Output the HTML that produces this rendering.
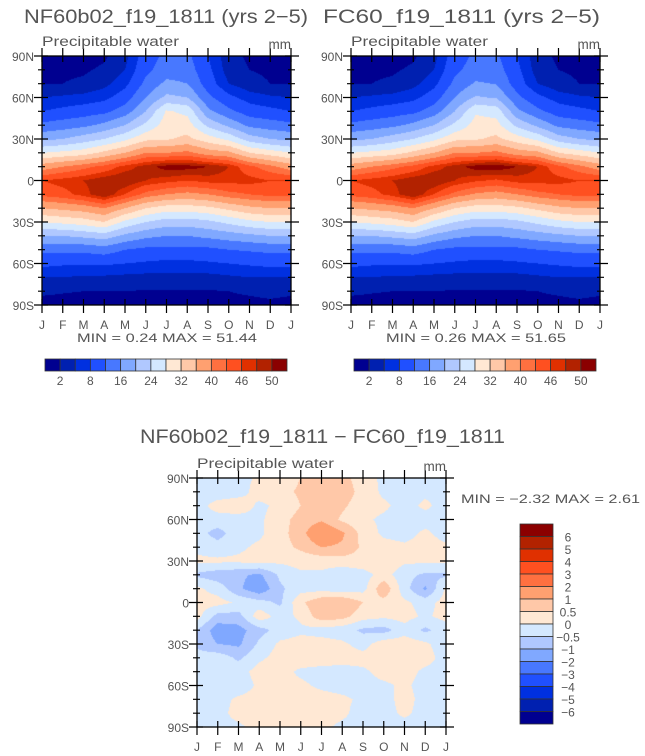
<!DOCTYPE html>
<html><head><meta charset="utf-8"><style>
html,body{margin:0;padding:0;background:#fff;}
#wrap{position:relative;width:645px;height:756px;overflow:hidden;}
canvas{position:absolute;}
svg{position:absolute;left:0;top:0;}
text{font-family:"Liberation Sans",sans-serif;}
</style></head><body>
<div id="wrap">
<canvas id="c1" width="249" height="249" style="left:42px;top:56px"></canvas>
<canvas id="c2" width="249" height="249" style="left:351px;top:56px"></canvas>
<canvas id="c3" width="249" height="249" style="left:197px;top:478px"></canvas>
<svg id="ov" width="645" height="756"></svg>
</div>
<script>
const months = ["J","F","M","A","M","J","J","A","S","O","N","D","J"];
const latLabels = ["90N","60N","30N","0","30S","60S","90S"];
const pwLevels = [2,5,8,12,16,20,24,28,32,36,40,43,46,48,50];
const pwTickLabels = ["2","8","16","24","32","40","46","50"];
const diffLevels = [-6,-5,-4,-3,-2,-1,-0.5,0,0.5,1,2,3,4,5,6];
const diffTickLabels = ["6","5","4","3","2","1","0.5","0","\u22120.5","\u22121","\u22122","\u22123","\u22124","\u22125","\u22126"];
const palette = ["#000090","#0020b0","#0030e0","#2050ff","#4878ff","#80a8ff","#b0c8ff","#d4e8ff","#ffe8d4","#ffc8a8","#ffa070","#ff7040","#ff5020","#e03000","#b22200","#8b0000"];
// rows: latitude 90N..90S step 10; columns: months J..J
const nf60 = [
[1,1,1,1.5,4,10,13,13,8,3,1.5,1,1],
[1.5,1.5,1.6,2.5,5,11,14,14,9,3.5,2,1.5,1.5],
[1.8,2,2.5,4,7,13,17,16,10,5,3,2,1.8],
[5,5.5,6,7,10,16,21,20,13,9,6.5,5.5,5],
[8,9,10,11,14,20,28.5,27,17,13,10,9,8],
[13,14,15,17,20,25,30,30,23,19,15,14,13],
[19,20,22,24,27,31,31.5,33,30,27,22,20,19],
[28,29,30,33,36,40,40,41,38,37,32,30,28],
[38,40,42,44,47,49,51,51,50,48,44,41,38],
[46,47,48,49.5,50,48,47,46,47,47,47,46,46],
[44,45,47,50,46,42,40,39,40,42,43,44,44],
[36,37,38,40,36,32,30,30,31,33,35,36,36],
[28,29,30,32,27,24,22,22,23,25,27,28,28],
[20,20,21,22,19,17,16,16,17,18,19,20,20],
[13,13,13,14,12,11,11,11,11,12,12.5,13,13],
[9,8.5,8.5,8.5,8,7.5,7,7,7.5,8,8.5,9,9],
[5,5,4.5,4.5,4.2,4,4,4,4,4.5,5,5,5],
[2.5,2.2,2,2,2,1.8,1.8,1.8,1.8,2,2.5,3,2.5],
[1,1,1,1,0.8,0.8,0.8,0.8,0.8,1,1,1.2,1]];
const fc60 = [
[1,1,1,1.5,4,10,12.8,12.8,8,3,1.5,1,1],
[1.5,1.5,1.6,2.5,5,11,13.8,13.8,9,3.5,2,1.5,1.5],
[1.8,2,2.5,4,7,13,16.5,15.8,10,5,3,2,1.8],
[5,5.5,6,7,10,16,20.5,19.6,13,9,6.5,5.5,5],
[8,9,10,11,14,20,27.5,26.5,17,13,10,9,8],
[13,14,15,17,20,25,29.5,29.5,23,19,15,14,13],
[19,20,22,24,27,31,31.5,33,30,27,22,20,19],
[28,29,30,33,36,40,40,41,38,37,32,30,28],
[38,40,42,44,47,49,51,51.5,50,48,44,41,38],
[46,47,48,49.5,50,48,46.5,45.5,47,47,47,46,46],
[44,45,47,50,46,42,39.5,38.5,40,42,43,44,44],
[36,37,38,40,36,32,30,30,31,33,35,36,36],
[28,29,30,32,27,24,22,22,23,25,27,28,28],
[20,20,21,22,19,17,16,16,17,18,19,20,20],
[13,13,13,14,12,11,11,11,11,12,12.5,13,13],
[9,8.5,8.5,8.5,8,7.5,7,7,7.5,8,8.5,9,9],
[5,5,4.5,4.5,4.2,4,4,4,4,4.5,5,5,5],
[2.5,2.2,2,2,2,1.8,1.8,1.8,1.8,2,2.5,3,2.5],
[1,1,1,1,0.8,0.8,0.8,0.8,0.8,1,1,1.2,1]];
const diff = [
[-0.2,-0.2,-0.2,0.1,0.2,0.5,0.9,0.7,0.2,-0.1,-0.2,-0.2,-0.2],
[-0.2,-0.3,-0.2,0.2,0.3,0.6,1.0,0.8,0.3,-0.1,-0.2,-0.1,-0.2],
[-0.2,0.2,0.3,-0.1,0.1,0.5,0.8,0.6,0.2,0.1,-0.2,0.1,-0.2],
[-0.2,-0.2,-0.2,-0.1,0.3,0.7,0.9,0.4,0.1,-0.1,-0.2,-0.2,-0.2],
[-0.3,-0.7,-0.2,-0.1,0.3,0.8,1.6,1.1,0.3,-0.1,-0.2,0.1,-0.2],
[-0.1,-0.3,-0.1,0.1,0.3,0.6,1.0,0.9,0.4,0.2,0.1,0.2,0.1],
[0.1,0.1,0.1,0.2,0.1,0.2,0.2,0.3,0.3,0.3,0.1,0.1,0.1],
[-0.6,-0.8,-0.9,-1.1,-0.4,-0.1,-0.1,-0.4,-0.2,0.2,-0.3,-0.6,-0.6],
[0.1,-0.2,-0.9,-1.4,-0.6,-0.2,-0.2,-0.3,-0.2,0.9,-0.3,-1.1,0.1],
[0.2,0.2,-0.1,-0.3,-0.6,0.4,0.9,1.0,0.5,0.3,0.1,-0.2,0.2],
[0.2,-0.7,-0.7,0.3,-0.2,0.1,0.8,0.7,0.2,0.1,0.2,-0.1,0.2],
[-0.5,-1.3,-1.2,-0.7,-0.3,-0.1,-0.2,-0.3,-0.6,-0.7,-0.2,-0.6,-0.3],
[-0.6,-1.0,-1.1,-0.4,0.1,0.2,0.2,0.1,-0.2,0.3,0.3,0.1,-0.3],
[-0.3,-0.2,-0.6,-0.1,0.2,0.3,0.3,0.2,0.2,0.2,0.1,0.2,-0.2],
[-0.2,-0.2,-0.2,0.2,0.2,-0.1,-0.2,-0.2,-0.1,0.2,0.2,-0.1,-0.2],
[-0.2,-0.2,-0.3,0.1,0.1,0.1,-0.1,-0.2,-0.2,-0.1,0.1,-0.2,-0.2],
[-0.2,-0.2,0.1,0.2,0.2,0.3,0.2,0.1,-0.1,-0.2,0.2,-0.2,-0.2],
[-0.2,-0.2,0.2,0.3,0.3,0.3,0.2,0.1,-0.2,-0.2,0.1,-0.2,-0.2],
[-0.2,-0.2,-0.1,0.2,0.2,0.2,0.1,-0.1,-0.2,-0.2,-0.2,-0.2,-0.2]];

function hex(c){return [parseInt(c.substr(1,2),16),parseInt(c.substr(3,2),16),parseInt(c.substr(5,2),16)];}
const pal = palette.map(hex);
function level(v,levels){let i=0;while(i<levels.length&&v>=levels[i])i++;return i;}
function drawField(id,grid,levels){
  const cv=document.getElementById(id),ctx=cv.getContext('2d');
  const W=cv.width,H=cv.height,img=ctx.createImageData(W,H);
  const nr=grid.length,nc=grid[0].length;
  for(let y=0;y<H;y++){const fy=(y+0.5)/H*(nr-1),r0=Math.min(Math.floor(fy),nr-2),ty=fy-r0;
    for(let x=0;x<W;x++){const fx=(x+0.5)/W*(nc-1),c0=Math.min(Math.floor(fx),nc-2),tx=fx-c0;
      const v=(grid[r0][c0]*(1-tx)+grid[r0][c0+1]*tx)*(1-ty)+(grid[r0+1][c0]*(1-tx)+grid[r0+1][c0+1]*tx)*ty;
      const col=pal[level(v,levels)],k=(y*W+x)*4;
      img.data[k]=col[0];img.data[k+1]=col[1];img.data[k+2]=col[2];img.data[k+3]=255;}}
  ctx.putImageData(img,0,0);
}
drawField('c1',nf60,pwLevels);
drawField('c2',fc60,pwLevels);
drawField('c3',diff,diffLevels);

const NS='http://www.w3.org/2000/svg',ov=document.getElementById('ov');
function el(tag,attrs,txt){const e=document.createElementNS(NS,tag);for(const k in attrs)e.setAttribute(k,attrs[k]);if(txt!==undefined)e.textContent=txt;ov.appendChild(e);return e;}
function txt(x,y,s,size,anchor,name,len){const a={x:x,y:y,'font-size':size,fill:'#555','text-anchor':anchor||'start'};if(len){a.textLength=len;a.lengthAdjust='spacingAndGlyphs';}const t=el('text',a,s);

return t;}
function axes(x0,y0,w,h,prefix){
  const r=el('rect',{x:x0,y:y0,width:w,height:h,fill:'none',stroke:'#000','stroke-width':1.3});
  
  
  const xs=m=>x0+m*w/12, ys=i=>y0+i*h/18;
  let d='';
  for(let m=0;m<13;m++){const x=xs(m);d+=`M${x} ${y0+h-6}V${y0+h+8}M${x} ${y0-8}V${y0+6}`;}
  for(let i=0;i<19;i++){const y=ys(i),L=(i%3==0)?8:4;d+=`M${x0-L} ${y}H${x0+(i%3==0?6:3)}M${x0+w-(i%3==0?6:3)} ${y}H${x0+w+L}`;}
  const p=el('path',{d:d,stroke:'#000','stroke-width':1.2,fill:'none'});
  
  
  months.forEach((m,i)=>txt(xs(i),y0+h+24,m,12,'middle',prefix+'-month-label'));
  latLabels.forEach((l,i)=>txt(x0-8,ys(i*3)+5,l,12,'end',prefix+'-lat-label'));
  txt(x0,y0-10,'Precipitable water',13.5,'start',prefix+'-subtitle',137);
  txt(x0+w,y0-7,'mm',13.5,'end',prefix+'-units');
}
function hbar(x0,y0,w,h,prefix){
  const bw=w/palette.length;
  palette.forEach((c,i)=>{const r=el('rect',{x:x0+i*bw,y:y0,width:bw,height:h,fill:c,stroke:'#333','stroke-width':0.8});
    
    });
  pwTickLabels.forEach((l,i)=>txt(x0+(2*i+1)*bw,y0+26,l,12,'middle',prefix+'-colorbar-label'));
}
txt(24,23,'NF60b02_f19_1811 (yrs 2\u22125)',19,'start','left-title',284);
txt(323,23,'FC60_f19_1811 (yrs 2\u22125)',19,'start','right-title',277);
axes(42,56,249,249,'left');
axes(351,56,249,249,'right');
txt(77,342,'MIN =    0.24  MAX =    51.44',12,'start','left-min-max',180);
txt(386,342,'MIN =    0.26  MAX =    51.65',12,'start','right-min-max',180);
hbar(45,359,242,12,'left');
hbar(354,359,242,12,'right');
txt(140,443,'NF60b02_f19_1811 \u2212 FC60_f19_1811',19,'start','difference-title',365);
axes(197,478,249,249,'diff');
txt(461,503,'MIN =   \u22122.32  MAX =     2.61',12,'start','diff-min-max',179);
const vb=200/16, pr=[...palette].reverse();
pr.forEach((c,i)=>{const r=el('rect',{x:520,y:524+i*vb,width:33,height:vb,fill:c,stroke:'#333','stroke-width':0.8});
  
  });
diffTickLabels.forEach((l,i)=>txt(568,524+(i+1)*vb+5,l,12,'middle','diff-colorbar-label'));
</script>
</body></html>
